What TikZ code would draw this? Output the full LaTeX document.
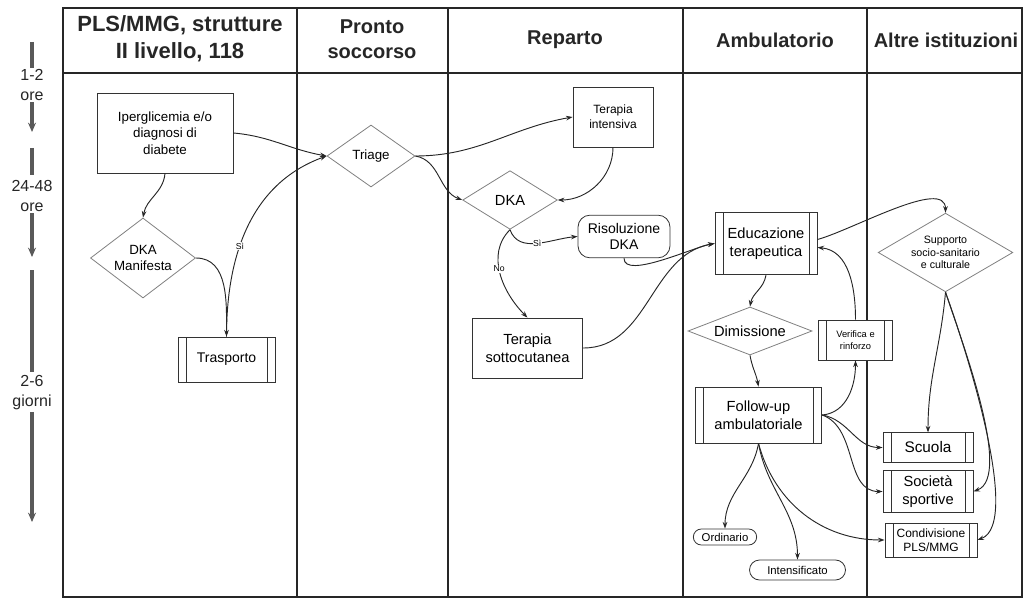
\documentclass[tikz,border=0pt]{standalone}
\usepackage{fontspec}
\setmainfont{Liberation Sans}
\usetikzlibrary{shapes.geometric,shapes.misc,arrows.meta}
\newcommand\fsz[2]{\fontsize{#1}{#2}\selectfont}
\begin{document}
\begin{tikzpicture}[x=0.75pt,y=0.75pt]
\tikzset{
 lane/.style={line width=0.9pt, draw=black!85},
 hdr/.style={font=\bfseries\fsz{15}{19}, align=center, inner sep=0pt, text=black!85},
 box/.style={draw=black!80, line width=0.6pt, align=center, inner sep=1pt, fill=white},
 pproc/.style={box, path picture={
   \draw[black!80, line width=0.6pt] ([xshift=6pt]path picture bounding box.north west) -- ([xshift=6pt]path picture bounding box.south west);
   \draw[black!80, line width=0.6pt] ([xshift=-6pt]path picture bounding box.north east) -- ([xshift=-6pt]path picture bounding box.south east);}},
 dia/.style={diamond, draw=black!50, line width=0.6pt, align=center, inner sep=0pt, fill=white},
 rbox/.style={box, rounded corners=9pt},
 pill/.style={rounded rectangle, draw=black!80, line width=0.6pt, inner sep=1pt, fill=white},
 conn/.style={-{Stealth[length=5pt,width=3.5pt]}, line width=0.7pt, draw=black!85},
 lbl/.style={font=\fsz{6.5}{7}, inner sep=0.5pt, fill=white},
 tax/.style={font=\fsz{12}{15}, align=center, inner sep=1pt, text=black!85},
 tline/.style={line width=2.4pt, draw=black!65},
}
\useasboundingbox (0,0) rectangle (1025,-599);
% lanes
\draw[lane] (63,-8) rectangle (1022,-597);
\draw[lane] (63,-73) -- (1022,-73);
\foreach \x in {297,448,683,867} \draw[lane] (\x,-8) -- (\x,-597);
% headers
\node[hdr, font=\bfseries\fsz{16.5}{20}] (h1) at (180,-39) {PLS/MMG, strutture\\II livello, 118};
\node[hdr] (h2) at (372,-39) {Pronto\\soccorso};
\node[hdr] (h3) at (565,-40) {Reparto};
\node[hdr] (h4) at (775,-40) {Ambulatorio};
\node[hdr] (h5) at (946,-40) {Altre istituzioni};
% time axis
\node[tax] (t1) at (32,-85) {1-2\\ore};
\coordinate (t1a) at (32,-42); \coordinate (t1b) at (32,-68); \coordinate (t1c) at (32,-132);
\draw[tline] (t1a) -- (t1b);
\draw[tline,-{Stealth[length=7pt,width=6pt]}] (t1.south) -- (t1c);
\node[tax] (t2) at (32,-196) {24-48\\ore};
\coordinate (t2a) at (32,-148); \coordinate (t2b) at (32,-175); \coordinate (t2c) at (32,-257);
\draw[tline] (t2a) -- (t2b);
\draw[tline,-{Stealth[length=7pt,width=6pt]}] (t2.south) -- (t2c);
\node[tax] (t3) at (32,-393) {2-6\\giorni};
\coordinate (t3a) at (32,-270); \coordinate (t3b) at (32,-372); \coordinate (t3c) at (32,-522);
\draw[tline] (t3a) -- (t3b);
\draw[tline,-{Stealth[length=7pt,width=6pt]}] (t3.south) -- (t3c);
% nodes
\node[box, minimum width=102pt, minimum height=60pt, font=\fsz{10}{12.5}] (iper) at (165,-133) {Iperglicemia e/o\\diagnosi di\\diabete};
\node[dia, aspect=1.31, minimum width=78.75pt, minimum height=60pt, font=\fsz{10}{12}] (dkam) at (143,-258) {DKA\\Manifesta};
\node[pproc, minimum width=72.75pt, minimum height=33.75pt, font=\fsz{10.5}{12}] (trasp) at (226.5,-359.5) {Trasporto};
\node[dia, aspect=1.42, minimum width=66pt, minimum height=46.5pt, font=\fsz{10}{12}] (triage) at (371,-156) {Triage};
\node[box, minimum width=60pt, minimum height=45pt, font=\fsz{9}{11}] (tint) at (613,-117) {Terapia\\intensiva};
\node[dia, aspect=1.61, minimum width=71pt, minimum height=44pt, font=\fsz{11}{13}] (dka) at (510,-200) {DKA};
\node[rbox, minimum width=69pt, minimum height=32pt, font=\fsz{10.5}{12.5}] (ris) at (624,-236.5) {Risoluzione\\DKA};
\node[box, minimum width=83pt, minimum height=45pt, font=\fsz{11}{13.5}] (tsc) at (527.5,-348) {Terapia\\sottocutanea};
\node[pproc, minimum width=76.5pt, minimum height=47pt, font=\fsz{11}{13.5}] (edu) at (766,-243.5) {Educazione\\terapeutica};
\node[dia, aspect=2.58, minimum width=93pt, minimum height=36pt, font=\fsz{11}{13}] (dim) at (750,-331) {Dimissione};
\node[pproc, minimum width=56pt, minimum height=30pt, font=\fsz{7}{9}] (ver) at (855.5,-340) {Verifica e\\rinforzo};
\node[dia, aspect=1.71, minimum width=101pt, minimum height=59pt, font=\fsz{8}{9.5}] (sup) at (945.5,-252.5) {Supporto\\socio-sanitario\\e culturale};
\node[pproc, minimum width=95pt, minimum height=42pt, font=\fsz{11}{13.5}] (fol) at (758.5,-415) {Follow-up\\ambulatoriale};
\node[pproc, minimum width=67.5pt, minimum height=22pt, font=\fsz{11.5}{13}] (scu) at (928,-447.5) {Scuola};
\node[pproc, minimum width=67.5pt, minimum height=32pt, font=\fsz{11}{13}] (soc) at (928,-491.5) {Società\\sportive};
\node[pproc, minimum width=69pt, minimum height=25.5pt, font=\fsz{9}{10.5}] (con) at (931,-540) {Condivisione\\PLS/MMG};
\node[pill, minimum width=49.5pt, minimum height=12pt, font=\fsz{8.5}{10}] (ord) at (725,-537) {Ordinario};
\node[pill, minimum width=74pt, minimum height=15pt, font=\fsz{8.5}{10}] (int) at (797.5,-570) {Intensificato};
% connectors
\draw[conn] (iper.east) to[out=-5,in=170] (triage.west);
\draw[conn] (iper.south) to[out=-95,in=80] (dkam.north);
\draw[conn] (dkam.east) to[out=0,in=90] (trasp.north);
\draw[conn] (trasp.north) to[out=90,in=200] node[lbl,pos=0.4]{Sì} (triage.west);
\draw[conn] (triage.east) to[out=0,in=190] (tint.west);
\draw[conn] (triage.east) to[out=-10,in=160] (dka.west);
\draw[conn] (tint.south) to[out=-90,in=0] (dka.east);
\draw[conn] (dka.south) to[out=-70,in=185] node[lbl,pos=0.5]{Sì} (ris.west);
\draw[conn] (dka.south) to[out=-135,in=135] node[lbl,pos=0.45]{No} (tsc.north);
\draw[conn] (ris.south) to[out=-90,in=190,looseness=0.6] (edu.west);
\draw[conn] (tsc.east) to[out=0,in=190] (edu.west);
\draw[conn] ([yshift=3pt]edu.east) to[out=15,in=90,looseness=0.7] (sup.north);
\draw[conn] (edu.south) to[out=-100,in=80] (dim.north);
\draw[conn] (dim.south) to[out=-80,in=100] (fol.north);
\draw[conn] (ver.north) to[out=90,in=-5] ([yshift=-3pt]edu.east);
\draw[conn] (fol.east) to[out=5,in=-90] (ver.south);
\draw[conn] (fol.east) to[out=-10,in=180] (scu.west);
\draw[conn] (fol.east) to[out=-20,in=180] (soc.west);
\draw[conn] (fol.south) to[out=-100,in=90] (ord.north);
\draw[conn] (fol.south) to[out=-80,in=90] (int.north);
\draw[conn] (fol.south) to[out=-75,in=180] (con.west);
\draw[conn] (sup.south) to[out=-95,in=90] (scu.north);
\draw[conn] (sup.south) to[out=-72,in=20,looseness=0.55] (soc.east);
\draw[conn] (sup.south) to[out=-70,in=20,looseness=0.5] (con.east);
\end{tikzpicture}
\end{document}
